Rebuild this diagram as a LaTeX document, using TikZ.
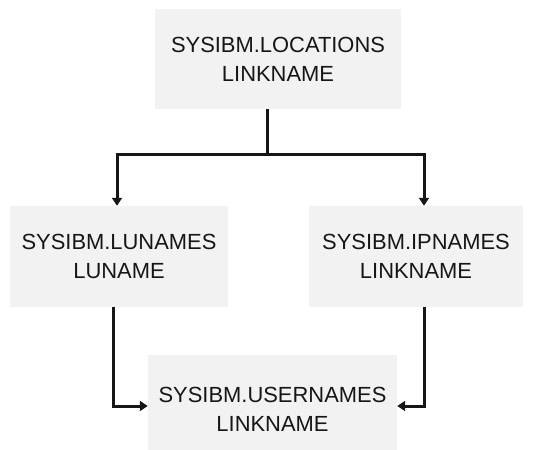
\documentclass[tikz,border=0pt]{standalone}
\usepackage{fontspec}
\setmainfont{Liberation Sans}
\usetikzlibrary{arrows.meta}
\definecolor{boxgray}{HTML}{F2F2F2}
\definecolor{ink}{HTML}{161616}
\begin{document}
\begin{tikzpicture}[x=1bp,y=-1bp,
  box/.style={fill=boxgray, draw=none, inner sep=0pt, align=center, text=ink,
    font=\fontsize{22}{29}\selectfont},
  link/.style={draw=ink, line width=3bp},
  conn/.style={link, -{Triangle[length=8bp,width=10bp]}}]
\useasboundingbox (0,0) rectangle (534,450);
\node[box, minimum width=246bp, minimum height=100bp] (loc) at (278,59) {SYSIBM.LOCATIONS\\LINKNAME};
\node[box, minimum width=218bp, minimum height=101bp] (lun) at (119,256.5) {SYSIBM.LUNAMES\\LUNAME};
\node[box, minimum width=214bp, minimum height=101bp] (ipn) at (416,256.5) {SYSIBM.IPNAMES\\LINKNAME};
\node[box, minimum width=249bp, minimum height=108bp] (usr) at (272.5,409) {SYSIBM.USERNAMES\\LINKNAME};
\coordinate (j) at (267,155);
\draw[link] (loc.south -| j) -- (j);
\draw[conn] (j) -| ([xshift=-2bp]lun.north);
\draw[conn] (j) -| ([xshift=8bp]ipn.north);
\draw[conn] ([xshift=-6bp]lun.south) |- ([yshift=3bp]usr.west);
\draw[conn] ([xshift=8bp]ipn.south) |- ([yshift=3bp]usr.east);
\end{tikzpicture}
\end{document}
